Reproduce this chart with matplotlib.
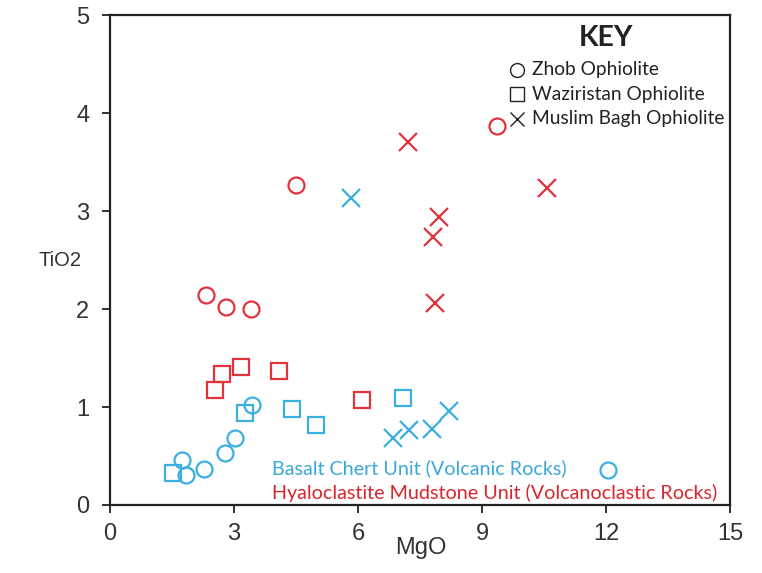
import matplotlib.pyplot as plt

# red = Hyaloclastite Mudstone Unit, blue = Basalt Chert Unit
red_circ_mgo = [2.32, 2.80, 3.41, 4.49, 9.37]
red_circ_tio2 = [2.14, 2.02, 2.00, 3.27, 3.87]
red_sq_mgo = [2.54, 2.71, 3.16, 4.08, 6.09]
red_sq_tio2 = [1.17, 1.34, 1.41, 1.37, 1.07]
red_x_mgo = [7.20, 10.58, 7.96, 7.82, 7.87]
red_x_tio2 = [3.70, 3.23, 2.94, 2.73, 2.06]

blue_circ_mgo = [1.74, 1.84, 2.27, 2.78, 3.02, 3.43, 12.05]
blue_circ_tio2 = [0.46, 0.31, 0.37, 0.53, 0.68, 1.02, 0.36]
blue_sq_mgo = [1.52, 3.26, 4.40, 4.98, 7.08]
blue_sq_tio2 = [0.33, 0.94, 0.98, 0.82, 1.09]
blue_x_mgo = [5.82, 6.84, 7.24, 7.78, 8.19]
blue_x_tio2 = [3.13, 0.68, 0.77, 0.78, 0.96]

key_labels = ['Zhob Ophiolite', 'Waziristan Ophiolite', 'Muslim Bagh Ophiolite']
red = '#e2323b'
blue = '#3aafe0'

fig = plt.figure(figsize=(7.62, 5.73), dpi=100)
ax = fig.add_axes([0.1444, 0.1187, 0.8136, 0.855])

ms = 11.5
mew = 1.6
ax.plot(blue_circ_mgo, blue_circ_tio2, 'o', ms=ms, mfc='none', mec=blue, mew=mew)
ax.plot(blue_sq_mgo, blue_sq_tio2, 's', ms=ms, mfc='none', mec=blue, mew=mew)
ax.plot(blue_x_mgo, blue_x_tio2, 'x', ms=ms + 2, mec=blue, mew=mew)
ax.plot(red_sq_mgo, red_sq_tio2, 's', ms=ms, mfc='none', mec=red, mew=mew)
ax.plot(red_x_mgo, red_x_tio2, 'x', ms=ms + 2, mec=red, mew=mew)

# key (drawn before the zhob red circles, one of them sits on top of it)
key_font = 'Lato'
ax.text(0.80, 0.953, 'KEY', transform=ax.transAxes, fontsize=20.5, fontweight='bold',
        family=key_font, ha='center', va='center', color='#222222')
for i, (m, lab) in enumerate(zip(['o', 's', 'x'], key_labels)):
    yy = 0.888 - i * 0.05
    ax.plot([0.657], [yy], m, transform=ax.transAxes, ms=10, mfc='none', mec='#222222', mew=1.0)
    ax.text(0.68, yy, lab, transform=ax.transAxes, fontsize=13.8, family=key_font,
            va='center', ha='left', color='#222222')

ax.plot(red_circ_mgo, red_circ_tio2, 'o', ms=ms, mfc='none', mec=red, mew=mew)

ax.text(0.262, 0.0755, 'Basalt Chert Unit (Volcanic Rocks)', transform=ax.transAxes,
        fontsize=14.2, family=key_font, color='#3aa8d8', va='center')
ax.text(0.262, 0.0245, 'Hyaloclastite Mudstone Unit (Volcanoclastic Rocks)', transform=ax.transAxes,
        fontsize=14.2, family=key_font, color='#d8262f', va='center')

ax.set_xlim(0, 15)
ax.set_ylim(0, 5)
ax.set_xticks([0, 3, 6, 9, 12, 15])
ax.set_yticks([0, 1, 2, 3, 4, 5])
ax.tick_params(labelsize=17, length=6, width=1.3, color='#222222', labelcolor='#333333')
ax.tick_params(axis='y', pad=9)
ax.tick_params(axis='x', pad=7)
for lab in ax.get_xticklabels() + ax.get_yticklabels():
    lab.set_family('Liberation Sans')
for s in ax.spines.values():
    s.set_linewidth(1.6)
    s.set_color('#222222')

ax.set_xlabel('MgO', fontsize=17, family='Liberation Sans', color='#333333', va='center')
ax.xaxis.set_label_coords(0.502, -0.088)
ax.set_ylabel('TiO2', fontsize=14.5, family='Liberation Sans', color='#333333', rotation=0,
              va='center')
ax.yaxis.set_label_coords(-0.08, 0.5)

fig.savefig('out.png', dpi=100)
